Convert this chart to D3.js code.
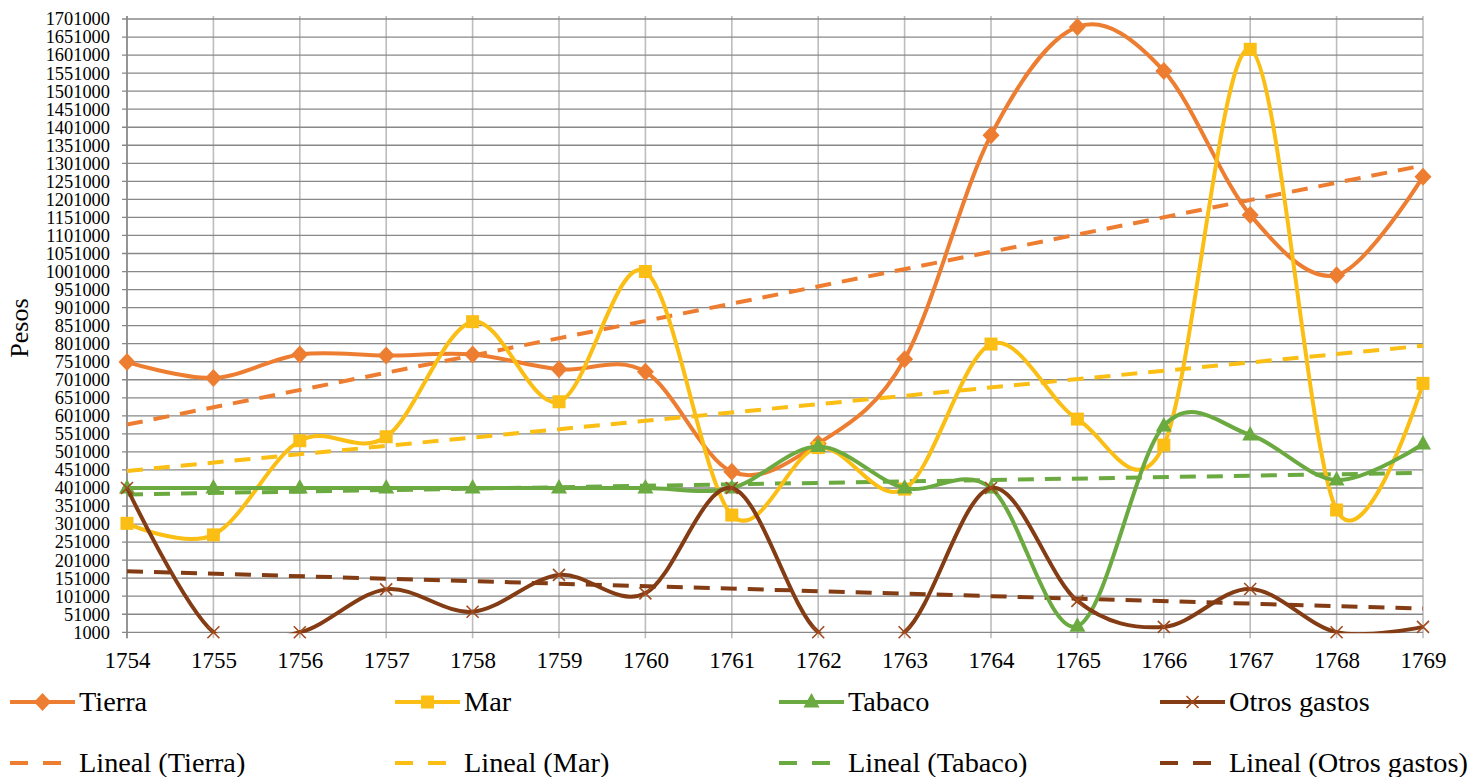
<!DOCTYPE html>
<html>
<head>
<meta charset="utf-8">
<script src="https://cdn.jsdelivr.net/npm/d3@7"></script>
<style>
  html, body { margin: 0; padding: 0; background: #fff; }
  svg { display: block; font-family: "Liberation Serif", "Times New Roman", serif; }
</style>
</head>
<body>
<svg id="chart" width="1473" height="777"></svg>
<script>
// Gastos anuales (pesos), 1754–1769
const years = [1754, 1755, 1756, 1757, 1758, 1759, 1760, 1761, 1762, 1763, 1764, 1765, 1766, 1767, 1768, 1769];
const tierra = [750000, 706000, 771000, 768000, 771000, 730000, 723000, 446000, 524000, 758000, 1379000, 1679000, 1557000, 1158000, 991000, 1264000];
const mar = [303000, 271000, 532000, 543000, 862000, 640000, 1001000, 326000, 513000, 398000, 800000, 592000, 520000, 1617000, 340000, 691000];
const tabaco = [401000, 401000, 401000, 401000, 401000, 401000, 401000, 401000, 516000, 401000, 401000, 18000, 573000, 548000, 423000, 523000];
const otros = [401000, 1000, 1000, 120000, 58000, 160000, 109000, 401000, 1000, 1000, 401000, 88000, 16000, 121000, 1000, 16000];
const yTicks = d3.range(1000, 1701001, 50000);
const seriesNames = ["Tierra", "Mar", "Tabaco", "Otros gastos"];

const colors = { Tierra: "#ED7D31", Mar: "#FBBE14", Tabaco: "#6BAA40", "Otros gastos": "#843C14" };
const series = [
  { name: "Tierra", values: tierra, marker: "diamond" },
  { name: "Mar", values: mar, marker: "square" },
  { name: "Tabaco", values: tabaco, marker: "triangle" },
  { name: "Otros gastos", values: otros, marker: "cross" }
];

const svg = d3.select("#chart");
const plotLeft = 127, plotRight = 1423, plotTop = 19, plotBottom = 632.3;

const x = d3.scaleLinear().domain([years[0], years[years.length - 1]]).range([plotLeft, plotRight]);
const y = d3.scaleLinear().domain([1000, 1701000]).range([plotBottom, plotTop]);

// Lines are clipped to the plot area; markers are not
svg.append("defs").append("clipPath").attr("id", "plot-clip")
  .append("rect").attr("x", plotLeft - 20).attr("y", 0)
  .attr("width", plotRight - plotLeft + 40).attr("height", plotBottom + 1);

// Grid
const grid = svg.append("g");
grid.selectAll("line.v").data(years).join("line")
  .attr("x1", d => x(d)).attr("x2", d => x(d))
  .attr("y1", plotTop - 3).attr("y2", plotBottom + 6)
  .attr("stroke", "#bdbdbd").attr("stroke-width", 1.6);
grid.selectAll("line.h").data(yTicks).join("line")
  .attr("x1", plotLeft - 5).attr("x2", plotRight)
  .attr("y1", d => y(d)).attr("y2", d => y(d))
  .attr("stroke", "#888").attr("stroke-width", 1.3);

// Axes (labels only, grid carries the lines)
const yAxis = d3.axisLeft(y).tickValues(yTicks).tickFormat(d => String(d)).tickSize(0).tickPadding(17);
svg.append("g").attr("transform", `translate(${plotLeft},0)`).call(yAxis)
  .call(g => g.select(".domain").remove())
  .selectAll("text").attr("font-size", 18.4).attr("fill", "#000")
  .attr("font-family", "Liberation Serif, Times New Roman, serif");

const xAxis = d3.axisBottom(x).tickValues(years).tickFormat(d => String(d)).tickSize(0).tickPadding(0);
svg.append("g").attr("transform", `translate(0,${plotBottom})`).call(xAxis)
  .call(g => g.select(".domain").remove())
  .selectAll("text").attr("font-size", 23).attr("fill", "#000")
  .attr("dy", null).attr("y", 35.7)
  .attr("font-family", "Liberation Serif, Times New Roman, serif");

svg.append("line").attr("x1", plotLeft).attr("x2", plotLeft).attr("y1", plotTop - 3).attr("y2", plotBottom + 6)
  .attr("stroke", "#888").attr("stroke-width", 1.6);

// Y title
svg.append("text").attr("transform", "translate(28,328) rotate(-90)")
  .attr("text-anchor", "middle").attr("font-size", 26).text("Pesos");

// Linear trend (least squares) for each series
function trend(values) {
  const n = values.length;
  const mx = d3.mean(years), my = d3.mean(values);
  let sxy = 0, sxx = 0;
  years.forEach((xv, i) => { sxy += (xv - mx) * (values[i] - my); sxx += (xv - mx) * (xv - mx); });
  const b = sxy / sxx, a = my - b * mx;
  return [years[0], years[n - 1]].map(xv => [xv, a + b * xv]);
}

const plot = svg.append("g");
const dash = "16 11";
series.forEach(s => {
  plot.append("path")
    .datum(trend(s.values))
    .attr("d", d3.line().x(d => x(d[0])).y(d => y(d[1])))
    .attr("fill", "none").attr("stroke", colors[s.name])
    .attr("stroke-width", 4).attr("stroke-dasharray", dash);
});

const smooth = d3.line().x((d, i) => x(years[i])).y(d => y(d)).curve(d3.curveCatmullRom.alpha(0));

function drawMarker(g, type, color, cx, cy) {
  if (type === "diamond") {
    g.append("path").attr("d", `M${cx},${cy - 9}L${cx + 8.5},${cy}L${cx},${cy + 9}L${cx - 8.5},${cy}Z`).attr("fill", color);
  } else if (type === "square") {
    g.append("rect").attr("x", cx - 6.5).attr("y", cy - 6.5).attr("width", 13).attr("height", 13).attr("fill", color);
  } else if (type === "triangle") {
    g.append("path").attr("d", `M${cx},${cy - 9}L${cx + 8},${cy + 5.5}L${cx - 8},${cy + 5.5}Z`).attr("fill", color);
  } else {
    g.append("path").attr("d", `M${cx - 6},${cy - 6}L${cx + 6},${cy + 6}M${cx - 6},${cy + 6}L${cx + 6},${cy - 6}`)
      .attr("stroke", "#A24A1E").attr("stroke-width", 1.6).attr("fill", "none");
  }
}

series.forEach(s => {
  const g = plot.append("g");
  g.append("path").datum(s.values).attr("d", smooth)
    .attr("clip-path", "url(#plot-clip)")
    .attr("fill", "none").attr("stroke", colors[s.name]).attr("stroke-width", 4)
    .attr("stroke-linejoin", "round");
  s.values.forEach((v, i) => drawMarker(g, s.marker, colors[s.name], x(years[i]), y(v)));
});

// Legend
const legendX = [10, 395, 779, 1160];
const legend = svg.append("g");
series.forEach((s, i) => {
  const lx = legendX[i];
  legend.append("line").attr("x1", lx).attr("x2", lx + 65).attr("y1", 702).attr("y2", 702)
    .attr("stroke", colors[s.name]).attr("stroke-width", 4);
  drawMarker(legend, s.marker, colors[s.name], lx + 32.5, 702);
  legend.append("text").attr("x", lx + 69).attr("y", 711).attr("font-size", 28.3).text(seriesNames[i]);

  legend.append("line").attr("x1", lx).attr("x2", lx + 55).attr("y1", 763).attr("y2", 763)
    .attr("stroke", colors[s.name]).attr("stroke-width", 4).attr("stroke-dasharray", "18 15");
  legend.append("text").attr("x", lx + 69).attr("y", 772).attr("font-size", 28.3).text(`Lineal (${seriesNames[i]})`);
});
</script>
</body>
</html>
